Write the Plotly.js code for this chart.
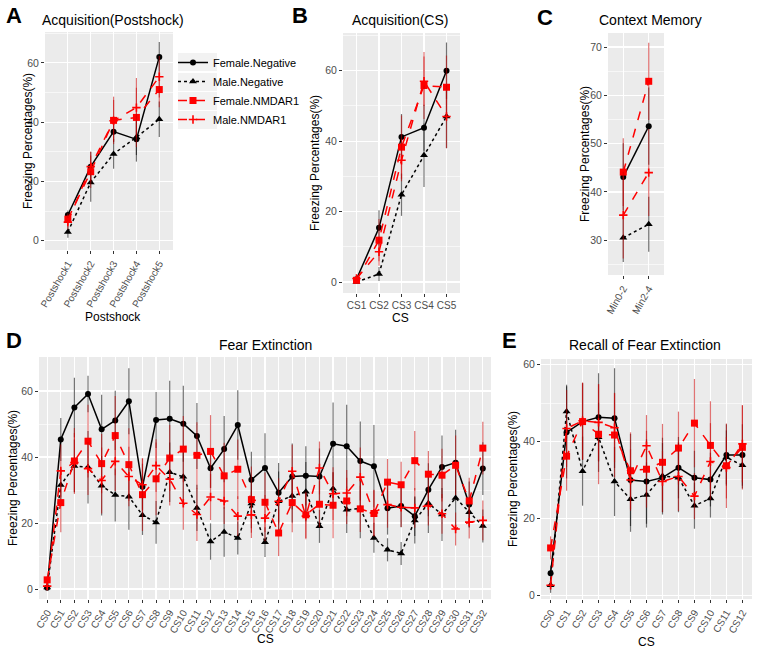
<!DOCTYPE html>
<html><head><meta charset="utf-8">
<script src="https://cdn.plot.ly/plotly-3.0.1.min.js"></script>
<style>html,body{margin:0;padding:0;background:#fff}#chart{width:758px;height:650px}</style>
</head><body><div id="chart"></div>
<script>
// ---------- data ----------
const groups = ['Female.Negative','Male.Negative','Female.NMDAR1','Male.NMDAR1'];

// Panel A: Acquisition(Postshock)
const A_cats = ['Postshock1','Postshock2','Postshock3','Postshock4','Postshock5'];
const A_FN = [8.7, 25.0, 36.8, 34.2, 62.0];   const A_FN_err = [1.5, 5, 3.5, 7.5, 5];
const A_MN = [3.0, 19.7, 29.3, 34.9, 41.0];   const A_MN_err = [2, 6.5, 5, 6, 6];
const A_FR = [7.3, 23.3, 40.6, 41.6, 51.0];   const A_FR_err = [2, 5.5, 8, 10, 6];
const A_MR = [6.3, 25.0, 40.5, 44.9, 55.3];   const A_MR_err = [2.5, 5, 7, 10, 7];

// Panel B: Acquisition(CS)
const B_cats = ['CS1','CS2','CS3','CS4','CS5'];
const B_FN = [0.8, 15.4, 41.2, 43.8, 60.0];   const B_FN_err = [0.5, 5, 6.5, 6.5, 8];
const B_MN = [0.0, 2.3, 24.8, 36.0, 47.0];    const B_MN_err = [0.3, 2, 6, 9, 9];
const B_FR = [0.5, 11.9, 38.3, 55.8, 55.3];   const B_FR_err = [0.5, 6, 9, 9.5, 9];
const B_MR = [1.0, 8.6, 34.6, 57.0, 47.0];    const B_MR_err = [0.5, 4, 6, 7, 9];

// Panel C: Context Memory
const C_cats = ['Min0-2','Min2-4'];
const C_FN = [43.1, 53.6]; const C_FN_err = [7, 8];
const C_MN = [30.5, 33.3]; const C_MN_err = [5, 5.7];
const C_FR = [44.1, 62.9]; const C_FR_err = [7, 8];
const C_MR = [35.2, 44.0]; const C_MR_err = [9, 9];

// Panel D: Fear Extinction
const D_cats = ['CS0','CS1','CS2','CS3','CS4','CS5','CS6','CS7','CS8','CS9','CS10','CS11','CS12','CS13','CS14','CS15','CS16','CS17','CS18','CS19','CS20','CS21','CS22','CS23','CS24','CS25','CS26','CS27','CS28','CS29','CS30','CS31','CS32'];
const D_FN = [0.4,45.3,55.0,59.1,48.4,51.1,56.9,31.0,51.2,51.6,50.1,46.4,36.6,42.4,49.7,33.1,36.7,29.2,34.1,34.3,34.1,44.0,43.3,38.8,37.2,24.5,25.2,22.1,30.1,37.0,38.3,25.6,36.5];
const D_FN_err = [0.5,6.5,9,5.5,10.5,9,10,7,8.5,11.5,11.5,10,6,10,10.5,8.5,10.5,9,10,9,8.5,12.5,12.5,12,12.5,8,6.5,6,8,9.5,10,7,8];
const D_MN = [0.5,31.5,37.3,36.9,31.3,28.5,28.0,22.4,20.2,35.4,34.0,24.6,14.4,17.3,15.5,25.9,14.2,26.6,28.2,29.5,19.0,30.4,24.0,24.4,15.5,11.9,10.8,20.8,26.0,22.6,27.6,23.3,19.1];
const D_MN_err = [0.5,5,8,11,9,8,10,6,6.5,9,9,7,5.5,7.5,5,7.5,4.5,9,8,9,5,5,7,9,4.5,3.5,3.5,7,9,8,10,4.5,5];
const D_FR = [2.8,26.2,38.8,44.8,38.0,46.5,37.7,28.6,33.4,39.7,42.4,40.5,41.7,34.3,36.3,27.1,26.3,17.0,26.2,22.5,25.7,25.4,26.7,24.3,22.9,32.4,31.6,38.9,34.8,34.5,37.5,26.7,42.7];
const D_FR_err = [1,9,10,11,9,12,11,11,11,10,10,10,11,10,9,10,9,7,9,7,7,10,7,7,7,7,7,9,7,8,9,7,8];
const D_MR = [0.9,35.8,38.3,36.5,32.9,38.7,34.1,31.6,37.4,33.3,26.0,22.6,27.9,26.7,22.1,22.5,21.5,26.6,35.7,22.1,36.7,28.9,29.1,33.9,23.1,25.6,24.8,24.6,25.3,22.8,18.2,20.3,20.8];
const D_MR_err = [1,8,9,8,10,9,9,8,8,8,8,8,7,7,6,7,7,7,8,7,8,8,7,9,7,7,6,6,6,6,5,5,6];

// Panel E: Recall of Fear Extinction
const E_cats = ['CS0','CS1','CS2','CS3','CS4','CS5','CS6','CS7','CS8','CS9','CS10','CS11','CS12'];
const E_FN = [5.7,42.4,45.2,46.3,46.1,30.0,29.6,30.6,33.2,30.6,30.1,36.5,36.5];
const E_FN_err = [2,12,10,11.5,13,12,11,9,8,7,7,8,8];
const E_MN = [2.6,47.8,32.3,41.1,29.6,25.0,26.1,31.0,30.6,23.3,25.2,35.9,33.8];
const E_MN_err = [2,7,9,9,9,8.5,8.5,10,9,6,5,7,6];
const E_FR = [12.3,36.2,45.2,41.9,41.7,32.4,32.8,34.6,38.3,44.8,39.0,33.7,38.5];
const E_FR_err = [3,9,10,13,11,10,10,10,9.5,11.5,11.5,11,11];
const E_MR = [2.6,43.4,45.4,45.0,43.6,30.0,38.9,29.6,30.9,25.8,34.8,33.2,39.4];
const E_MR_err = [1,10,10,10,9,8,8,8,9,6,10,8,10];

// ---------- styles ----------
const styles = {
  'Female.Negative': {color:'#000000', err:'rgba(0,0,0,0.55)', symbol:'circle', size:6, dash:'solid'},
  'Male.Negative':   {color:'#000000', err:'rgba(0,0,0,0.55)', symbol:'triangle-up', size:7, dash:'dot'},
  'Female.NMDAR1':   {color:'#FF0000', err:'rgba(200,0,0,0.55)', symbol:'square', size:7, dash:'dash'},
  'Male.NMDAR1':     {color:'#FF0000', err:'rgba(200,0,0,0.55)', symbol:'cross-thin-open', size:6, dash:'dash'}
};

function mk(name, cats, y, err, ax, showleg){
  const s = styles[name];
  const xa = ax===1 ? 'x' : 'x'+ax, ya = ax===1 ? 'y' : 'y'+ax;
  return {
    type:'scatter', mode:'lines+markers', name:name, x:cats, y:y, xaxis:xa, yaxis:ya,
    showlegend:showleg, legendgroup:name,
    line:{color:s.color, width:1.5, dash:s.dash},
    marker:{color:s.color, symbol:s.symbol, size:s.size, line:{color:s.color, width: s.symbol==='cross-thin-open'?1.6:0}},
    error_y:{type:'data', array:err, visible:true, color:s.err, thickness:1.2, width:0}
  };
}

const panels = [
  {ax:1, cats:A_cats, data:[[A_FN,A_FN_err],[A_MN,A_MN_err],[A_FR,A_FR_err],[A_MR,A_MR_err]]},
  {ax:2, cats:B_cats, data:[[B_FN,B_FN_err],[B_MN,B_MN_err],[B_FR,B_FR_err],[B_MR,B_MR_err]]},
  {ax:3, cats:C_cats, data:[[C_FN,C_FN_err],[C_MN,C_MN_err],[C_FR,C_FR_err],[C_MR,C_MR_err]]},
  {ax:4, cats:D_cats, data:[[D_FN,D_FN_err],[D_MN,D_MN_err],[D_FR,D_FR_err],[D_MR,D_MR_err]]},
  {ax:5, cats:E_cats, data:[[E_FN,E_FN_err],[E_MN,E_MN_err],[E_FR,E_FR_err],[E_MR,E_MR_err]]}
];

const traces = [];
panels.forEach(p => {
  groups.forEach((g,i) => traces.push(mk(g, p.cats, p.data[i][0], p.data[i][1], p.ax, p.ax===1)));
});

// ---------- layout ----------
const W = 758, H = 650;
const px = v => v/W, py = v => 1 - v/H;
const FONT = 'Liberation Sans, Arial, sans-serif';

function xax(x0,x1,n,angle){
  return {domain:[px(x0),px(x1)], type:'category', range:[-0.6, n-1+0.6],
    showgrid:true, gridcolor:'#FFFFFF', gridwidth:1.2, zeroline:false, showline:false,
    ticks:'outside', ticklen:3, tickcolor:'#333333', tickwidth:1,
    tickangle:angle, tickfont:{family:FONT, size:10, color:'#4D4D4D'}, fixedrange:true};
}
function yax(y0,y1,range,tv,minorD){
  return {domain:[py(y1),py(y0)], range:range, tickmode:'array', tickvals:tv,
    showgrid:true, gridcolor:'#FFFFFF', gridwidth:1.2, zeroline:false, showline:false,
    ticks:'outside', ticklen:3, tickcolor:'#333333', tickwidth:1,
    tickfont:{family:FONT, size:10.5, color:'#4D4D4D'},
    minor:{showgrid:true, gridcolor:'#FFFFFF', gridwidth:0.6, tick0:0, dtick:minorD, ticks:''},
    fixedrange:true};
}

const layout = {
  width:W, height:H, margin:{l:0,r:0,t:0,b:0},
  paper_bgcolor:'#FFFFFF', plot_bgcolor:'#EBEBEB',
  font:{family:FONT, color:'#000'},
  xaxis:  Object.assign(xax(45,173,5,-60), {anchor:'y', range:[-1.0,4.6]}),
  yaxis:  Object.assign(yax(32,250,[-3.1,70.4],[0,20,40,60],10), {anchor:'x'}),
  xaxis2: Object.assign(xax(343,460,5,0), {anchor:'y2'}),
  yaxis2: Object.assign(yax(33,293,[-3.1,70.7],[0,20,40,60],10), {anchor:'x2'}),
  xaxis3: Object.assign(xax(608,664,2,-60), {anchor:'y3'}),
  yaxis3: Object.assign(yax(33,275,[22.8,72.9],[30,40,50,60,70],5), {anchor:'x3'}),
  xaxis4: Object.assign(xax(39,491,33,-60), {anchor:'y4'}),
  yaxis4: Object.assign(yax(357,599,[-3.0,70.3],[0,20,40,60],10), {anchor:'x4'}),
  xaxis5: Object.assign(xax(541,752,13,-60), {anchor:'y5'}),
  yaxis5: Object.assign(yax(359,599,[-1.0,61.5],[0,20,40,60],10), {anchor:'x5'}),
  legend:{x:px(173), y:py(48), xanchor:'left', yanchor:'top', bgcolor:'rgba(0,0,0,0)',
    font:{family:FONT, size:11, color:'#000'}, itemwidth:30, tracegroupgap:0, traceorder:'normal'},
  annotations:[],
  shapes:[]
};

// grey legend key backgrounds (ggplot style)
[62,82,101,120].forEach(yc => layout.shapes.push({type:'rect', xref:'paper', yref:'paper',
  x0:px(178), x1:px(217), y0:py(yc+9), y1:py(yc-9), fillcolor:'#F2F2F2', line:{width:0}, layer:'below'}));

function ann(text,x,y,size,opts){
  layout.annotations.push(Object.assign({text:text, x:px(x), y:py(y), xref:'paper', yref:'paper',
    showarrow:false, xanchor:'center', yanchor:'middle', font:{family:FONT, size:size, color:'#000'}}, opts||{}));
}
// panel letters
ann('<b>A</b>',14,15,22); ann('<b>B</b>',300,15,22); ann('<b>C</b>',545,17,22);
ann('<b>D</b>',14,340,22); ann('<b>E</b>',509,340,22);
// titles
ann('Acquisition(Postshock)',113,20,14); ann('Acquisition(CS)',400,20,14);
ann('Context Memory',650,20,14); ann('Fear Extinction',265,345,14);
ann('Recall of Fear Extinction',645,345,14);
// x titles
ann('Postshock',113,317,12); ann('CS',400,318,12); ann('CS',265,639,12); ann('CS',646,642,12);
// y titles
const yt = 'Freezing Percentages(%)';
ann(yt,28,141,12,{textangle:-90}); ann(yt,315,163,12,{textangle:-90});
ann(yt,585,154,12,{textangle:-90}); ann(yt,13,478,12,{textangle:-90});
ann(yt,513,479,12,{textangle:-90});

Plotly.newPlot('chart', traces, layout, {staticPlot:true, displayModeBar:false});
</script></body></html>
